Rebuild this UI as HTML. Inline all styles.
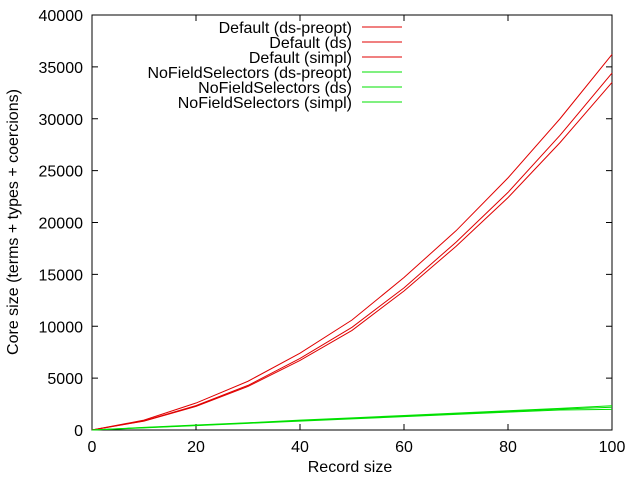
<!DOCTYPE html>
<html><head><meta charset="utf-8"><style>
body{margin:0;background:#fff}
svg{font-family:"Liberation Sans",sans-serif;font-size:16px}
</style></head><body>
<svg id="chart" width="640" height="480">
<g id="axes"></g>
<g id="series"></g>
<g id="legend"></g>
<text x="350" y="472" text-anchor="middle">Record size</text>
<text transform="translate(18,222) rotate(-90)" text-anchor="middle">Core size (terms + types + coercions)</text>
</svg>
<script>
const xs=[0,10,20,30,40,50,60,70,80,90,100];
const seriesNames=["Default (ds-preopt)","Default (ds)","Default (simpl)","NoFieldSelectors (ds-preopt)","NoFieldSelectors (ds)","NoFieldSelectors (simpl)"];
const seriesColors=["#e00000","#e00000","#e00000","#00e000","#00e000","#00e000"];
const s1=[0,950,2600,4700,7400,10600,14700,19200,24300,30000,36200];
const s2=[0,880,2350,4300,6900,9900,13700,18100,22900,28400,34400];
const s3=[0,860,2280,4200,6700,9600,13400,17700,22400,27700,33500];
const s4=[0,250,480,700,950,1170,1400,1630,1860,2080,2340];
const s5=[0,230,450,670,900,1120,1340,1560,1790,2010,2190];
const s6=[0,210,420,640,860,1070,1290,1500,1720,1930,1990];
const seriesVals=[s1,s2,s3,s4,s5,s6];
const xTicks=[0,20,40,60,80,100];
const yTicks=[0,5000,10000,15000,20000,25000,30000,35000,40000];
const L=92,R=612,T=15,B=430;
const X=v=>L+(v-0)/100*(R-L);
const Y=v=>B-v/40000*(B-T);
const NS="http://www.w3.org/2000/svg";
function mk(tag,attrs,parent){const e=document.createElementNS(NS,tag);for(const k in attrs)e.setAttribute(k,attrs[k]);parent.appendChild(e);return e;}
const ax=document.getElementById('axes');
const frame=mk('rect',{x:L,y:T,width:R-L,height:B-T,fill:'none',stroke:'#000','stroke-width':1},ax);


xTicks.forEach(t=>{
  const l=mk('path',{d:`M${X(t)},${B}v-6M${X(t)},${T}v6`,stroke:'#000'},ax);
  
  
  const tx=mk('text',{x:X(t),y:B+22,'text-anchor':'middle'},ax);tx.textContent=t;
  
  
});
yTicks.forEach(t=>{
  const l=mk('path',{d:`M${L},${Y(t)}h6M${R},${Y(t)}h-6`,stroke:'#000'},ax);
  
  
  const tx=mk('text',{x:L-9,y:Y(t)+6,'text-anchor':'end'},ax);tx.textContent=t;
  
  
});
const sg=document.getElementById('series'),lg=document.getElementById('legend');
seriesVals.forEach((vals,i)=>{
  const p=mk('polyline',{points:vals.map((v,j)=>X(xs[j])+','+Y(v)).join(' '),fill:'none',stroke:seriesColors[i],'stroke-width':1},sg);
  
  
  const y=27+i*15;
  const tx=mk('text',{x:352,y:y+6,'text-anchor':'end'},lg);tx.textContent=seriesNames[i];
  
  
  const ln=mk('line',{x1:362,x2:402,y1:y,y2:y,stroke:seriesColors[i]},lg);
  
  
});
</script>
</body></html>
